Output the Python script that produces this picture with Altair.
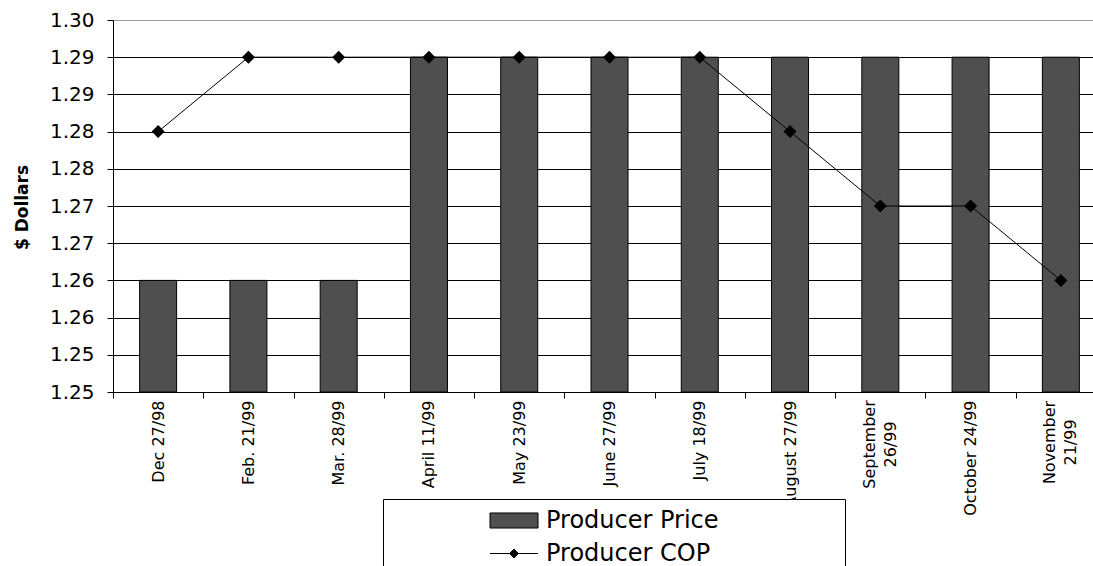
import altair as alt
import pandas as pd

dates = ["Dec 27/98", "Feb. 21/99", "Mar. 28/99", "April 11/99", "May 23/99",
         "June 27/99", "July 18/99", "August 27/99", "September 26/99",
         "October 24/99", "November 21/99"]
producer_price = [1.265, 1.265, 1.265, 1.295, 1.295, 1.295, 1.295, 1.295, 1.295, 1.295, 1.295]
producer_cop = [1.285, 1.295, 1.295, 1.295, 1.295, 1.295, 1.295, 1.285, 1.275, 1.275, 1.265]
y_ticks = [1.25, 1.255, 1.26, 1.265, 1.27, 1.275, 1.28, 1.285, 1.29, 1.295, 1.30]
series_names = ["Producer Price", "Producer COP"]

price_df = pd.DataFrame({"date": dates, "value": producer_price, "series": series_names[0]})
cop_df = pd.DataFrame({"date": dates, "value": producer_cop, "series": series_names[1]})

FONT = "DejaVu Sans"

two_line = "datum.value == 'September 26/99' || datum.value == 'November 21/99'"

x_enc = alt.X("date:N", sort=dates,
              scale=alt.Scale(range=[0, 993], paddingInner=0, paddingOuter=0),
              axis=alt.Axis(title=None, labelAngle=270, labelFont=FONT, labelFontSize=16,
                            labelColor="black", labelOverlap=False, labelLineHeight=21,
                            labelAlign={"condition": {"test": two_line, "value": "center"}, "value": "right"},
                            labelOffset={"condition": {"test": two_line, "value": -11}, "value": 0},
                            labelPadding={"condition": [
                                {"test": "datum.value == 'September 26/99'", "value": 46},
                                {"test": "datum.value == 'November 21/99'", "value": 44}], "value": 2},
                            tickBand="extent", tickColor="black", tickSize=6,
                            domainColor="black", grid=False, labelLimit=300,
                            labelExpr="datum.label == 'September 26/99' ? ['September', '26/99'] : datum.label == 'November 21/99' ? ['November', '21/99'] : datum.label"))

y_scale = alt.Scale(domain=[1.25, 1.30], zero=False, nice=False)
y_axis = alt.Axis(title="$ Dollars", values=y_ticks, format=".2f", labelOverlap=False,
                  labelFont=FONT, labelFontSize=20, labelColor="black", labelPadding=13,
                  tickColor="black", tickSize=6, domainColor="black",
                  grid=True, gridWidth=1, gridOpacity=1,
                  gridColor={"condition": {"test": "datum.value >= 1.2999", "value": "#9a9a9a"}, "value": "black"},
                  titleFont=FONT, titleFontSize=17, titleFontWeight="bold", titleColor="black",
                  titleAngle=270, titleX=-91, titleY=187, titleAlign="center", titleBaseline="middle")
y_enc = alt.Y("value:Q", scale=y_scale, axis=y_axis, stack=None)

rect_path = "M-1.5,-0.47H1.5V0.47H-1.5Z M20.25,0"
line_path = "M-1.5,0H1.5M0,-0.28L0.28,0L0,0.28L-0.28,0Z M20.25,0"

legend = alt.Legend(
    title=None, orient="none", legendX=270, legendY=479,
    labelFont=FONT, labelFontSize=24, labelColor="black", labelLimit=400,
    symbolSize=1024, symbolOffset=109.5, labelOffset=15.5,
    padding=5, rowPadding=4,
    fillColor="white", strokeColor="black", cornerRadius=0,
    symbolStrokeColor="black", symbolStrokeWidth=1, symbolOpacity=1,
    symbolType={"expr": f"datum.value == 'Producer Price' ? '{rect_path}' : '{line_path}'"})

color = alt.Color("series:N", scale=alt.Scale(domain=series_names, range=["#4f4f4f", "#000000"]),
                  legend=legend)

bars = alt.Chart(price_df).mark_bar(size=37, stroke="black", strokeWidth=1).encode(
    x=x_enc, y=y_enc, color=color)

line = alt.Chart(cop_df).mark_line(color="black", strokeWidth=1).encode(
    x=x_enc, y=y_enc)

points = alt.Chart(cop_df).mark_point(shape="diamond", filled=True, size=170, opacity=1).encode(
    x=x_enc, y=y_enc, color=color)

chart = alt.layer(bars, line, points).properties(
    width=980, height=372,
    autosize=alt.AutoSizeParams(type="none"),
    padding={"left": 113, "top": 20, "right": 0, "bottom": 174},
    background="white",
).configure_view(stroke=None)

chart.save("out.html", embed_options={"renderer": "svg", "actions": False})
